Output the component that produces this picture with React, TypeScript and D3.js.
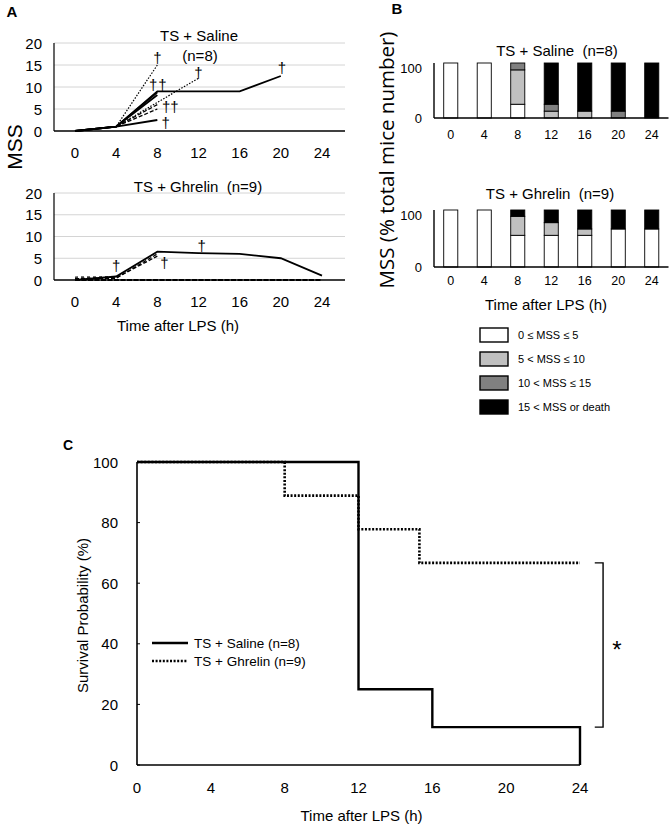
import React from 'react';
import * as d3 from 'd3';

const FONT = "'Liberation Sans', Arial, Helvetica, sans-serif";

// ---------- shared ----------
const timeLabels = ['0', '4', '8', '12', '16', '20', '24'];
const mssTicks = [0, 5, 10, 15, 20];

// ---------- Panel A : TS + Saline (n=8), [hour, MSS] ----------
const salineMouse1 = [[0, 0], [4, 1], [8, 9], [12, 9], [16, 9], [20, 12.5]];
const salineMouse2 = [[0, 0], [4, 1], [8, 15]];
const salineMouse3 = [[0, 0], [4, 1], [8, 6.5], [12, 12]];
const salineMouse4 = [[0, 0], [4, 1], [8, 8.8]];
const salineMouse5 = [[0, 0], [4, 1], [8, 8.2]];
const salineMouse6 = [[0, 0], [4, 1], [8, 6]];
const salineMouse7 = [[0, 0], [4, 1], [8, 5]];
const salineMouse8 = [[0, 0], [4, 1], [8, 2.5]];
const salineDeaths = [[8, 16.8], [7.6, 10.5], [8.5, 10.5], [8.85, 5.5], [9.65, 5.5], [8.8, 2], [12, 13.4], [20.1, 14.5]];

// ---------- Panel A : TS + Ghrelin (n=9) ----------
const ghrelinMouse1 = [[0, 0], [4, 0.8], [8, 6.5], [12, 6.2], [16, 6], [20, 5], [24, 1]];
const ghrelinMouse2 = [[0, 0.3], [4, 0.5], [8, 5.5]];
const ghrelinMouse3 = [[0, 0.3], [4, 0.4], [8, 6]];
const ghrelinMouse4 = [[0, 0.6], [4, 0.7]];
const ghrelinZero = [[0, 0], [4, 0], [8, 0], [12, 0], [16, 0], [20, 0], [24, 0]];
const ghrelinDeaths = [[4, 3.4], [8.7, 4.1], [12.3, 8]];

// ---------- Panel B : % of mice per MSS class ----------
const mssClasses = ['0 \u2264 MSS \u2264 5', '5 < MSS \u2264 10', '10 < MSS \u2264 15', '15 < MSS or death'];
const salineWhite = [100, 100, 25, 0, 0, 0, 0];
const salineLight = [0, 0, 62.5, 12.5, 12.5, 0, 0];
const salineDark = [0, 0, 12.5, 12.5, 0, 12.5, 0];
const salineBlack = [0, 0, 0, 75, 87.5, 87.5, 100];
const ghrelinWhite = [100, 100, 55.6, 55.6, 55.6, 66.7, 66.7];
const ghrelinLight = [0, 0, 33.3, 22.2, 11.1, 0, 0];
const ghrelinDark = [0, 0, 0, 0, 0, 0, 0];
const ghrelinBlack = [0, 0, 11.1, 22.2, 33.3, 33.3, 33.3];
const pctTicks = [0, 100];

// ---------- Panel C : survival ----------
const salineSurvival = [[0, 100], [12, 25], [16, 12.5], [24, 0]];
const ghrelinSurvival = [[0, 100], [8, 88.9], [12, 77.8], [15.3, 66.7], [24, 66.7]];
const survivalTicks = [0, 20, 40, 60, 80, 100];
const survivalHourTicks = [0, 4, 8, 12, 16, 20, 24];
const bracketRange = [66.7, 12.5];

const STYLE: Record<string, { w: number; dash?: string; c: string }> = {
  solid: { w: 1.8, c: '#000' },
  dotted: { w: 1.2, dash: '1.5,1.5', c: '#000' },
  dashed: { w: 1.3, dash: '4,2', c: '#000' },
  zero: { w: 2.2, dash: '5,1.5', c: '#000' },
  faint: { w: 2, dash: '3,3', c: '#444' },
};

const salineSeries: [number[][], string][] = [
  [salineMouse1, 'solid'], [salineMouse2, 'dotted'], [salineMouse3, 'dotted'], [salineMouse4, 'solid'],
  [salineMouse5, 'solid'], [salineMouse6, 'dashed'], [salineMouse7, 'dashed'], [salineMouse8, 'solid'],
];
const ghrelinSeries: [number[][], string][] = [
  [ghrelinZero, 'zero'], [ghrelinMouse4, 'faint'], [ghrelinMouse3, 'dashed'], [ghrelinMouse2, 'dashed'], [ghrelinMouse1, 'solid'],
];

const classColors = ['#ffffff', '#c0c0c0', '#808080', '#000000'];
const classKeys = ['c0', 'c1', 'c2', 'c3'];

function MssPanel({ y0, y1, series, deaths, title }: any) {
  const x = d3.scaleLinear().domain([0, 24]).range([75, 322]);
  const y = d3.scaleLinear().domain([0, 20]).range([y0, y1]);
  const line = d3.line<number[]>().x(d => x(d[0])).y(d => y(d[1]));
  return (
    <g>
      {mssTicks.filter(t => t > 0).map(t => (
        <line key={t} x1={54} x2={345} y1={y(t)} y2={y(t)} stroke="#d4d4d4" strokeWidth={1} />
      ))}
      {mssTicks.map(t => (
        <text key={t} x={42} y={y(t)} textAnchor="end" dominantBaseline="central" fontSize={15}>{t}</text>
      ))}
      {series.map(([pts, st]: any, i: number) => (
        <path key={i} d={line(pts) || ''} fill="none" stroke={STYLE[st].c} strokeWidth={STYLE[st].w}
          strokeDasharray={STYLE[st].dash} />
      ))}
      <line x1={54} x2={54} y1={y(0)} y2={y(20)} stroke="#000" strokeWidth={1.2} />
      <line x1={54} x2={345} y1={y(0)} y2={y(0)} stroke="#000" strokeWidth={1.6} />
      {deaths.map((d: number[], i: number) => (
        <text key={i} x={x(d[0])} y={y(d[1])} textAnchor="middle" dominantBaseline="central" fontSize={15} fill="#000">{'\u2020'}</text>
      ))}
      {timeLabels.map((l) => (
        <text key={l} x={x(+l)} y={y(0) + 21} textAnchor="middle" dominantBaseline="central" fontSize={15}>{l}</text>
      ))}
      {title}
    </g>
  );
}

function BarPanel({ y0, y1, data, labelGap }: any) {
  const x = d3.scaleBand<string>().domain(timeLabels).range([434, 668.5]).paddingInner(0.58).paddingOuter(0.29);
  const y = d3.scaleLinear().domain([0, 100]).range([y0, y1]);
  const rows = timeLabels.map((l, i) => {
    const r: any = { label: l };
    classKeys.forEach((k, j) => { r[k] = data[j][i]; });
    return r;
  });
  const stacked = d3.stack<any>().keys(classKeys)(rows);
  return (
    <g>
      {stacked.map((layer, j) => layer.map((seg, i) => {
        const h = y(seg[0]) - y(seg[1]);
        if (h <= 0.01) return null;
        return (
          <rect key={j + '-' + i} x={x(rows[i].label)} width={x.bandwidth()} y={y(seg[1])} height={h}
            fill={classColors[j]} stroke="#000" strokeWidth={0.9} />
        );
      }))}
      <line x1={434} x2={434} y1={y(0)} y2={y(100)} stroke="#000" strokeWidth={1.4} />
      <line x1={434} x2={668.5} y1={y(0)} y2={y(0)} stroke="#000" strokeWidth={1.6} />
      {pctTicks.map(t => (
        <text key={t} x={422} y={y(t)} textAnchor="end" dominantBaseline={t === 100 ? 'hanging' : 'central'} fontSize={13}>{t}</text>
      ))}
      {timeLabels.map(l => (
        <text key={l} x={(x(l) || 0) + x.bandwidth() / 2} y={y(0) + labelGap} textAnchor="middle" dominantBaseline="central" fontSize={12.5}>{l}</text>
      ))}
    </g>
  );
}

function SurvivalPanel() {
  const x = d3.scaleLinear().domain([0, 24]).range([137, 580]);
  const y = d3.scaleLinear().domain([0, 100]).range([765, 462]);
  const step = d3.line<number[]>().x(d => x(d[0])).y(d => y(d[1])).curve(d3.curveStepAfter);
  const bx = x(25.25);
  return (
    <g>
      <path d={step(ghrelinSurvival) || ''} fill="none" stroke="#000" strokeWidth={2.6} strokeDasharray="2,1.6" />
      <path d={step(salineSurvival) || ''} fill="none" stroke="#000" strokeWidth={2.4} />
      <line x1={x(0)} x2={x(0)} y1={y(0)} y2={y(100)} stroke="#000" strokeWidth={1.6} />
      <line x1={x(0)} x2={x(24)} y1={y(0)} y2={y(0)} stroke="#000" strokeWidth={1.6} />
      {survivalTicks.map(t => (
        <g key={t}>
          <line x1={x(0)} x2={x(0) + 3} y1={y(t)} y2={y(t)} stroke="#000" strokeWidth={1} />
          <text x={118} y={y(t)} textAnchor="end" dominantBaseline="central" fontSize={15}>{t}</text>
        </g>
      ))}
      {survivalHourTicks.map(t => (
        <text key={t} x={x(t)} y={y(0) + 22} textAnchor="middle" dominantBaseline="central" fontSize={15}>{t}</text>
      ))}
      {/* significance bracket */}
      <path d={`M${x(24.8)},${y(bracketRange[0])}H${bx}V${y(bracketRange[1])}H${x(24.8)}`} fill="none" stroke="#000" strokeWidth={1.4} />
      <text x={x(26)} y={y(38)} textAnchor="middle" dominantBaseline="central" fontSize={24}>*</text>
      {/* legend */}
      <line x1={152} x2={188} y1={643} y2={643} stroke="#000" strokeWidth={2.4} />
      <line x1={152} x2={188} y1={661} y2={661} stroke="#000" strokeWidth={2.4} strokeDasharray="2,1.6" />
      <text x={194} y={643} dominantBaseline="central" fontSize={13.5}>TS + Saline (n=8)</text>
      <text x={194} y={661} dominantBaseline="central" fontSize={13.5}>TS + Ghrelin (n=9)</text>
      <text transform={`translate(82,${(y(0) + y(100)) / 2 + 2}) rotate(-90)`} textAnchor="middle" dominantBaseline="central" fontSize={15}>Survival Probability (%)</text>
      <text x={(x(0) + x(24)) / 2 + 3} y={815} textAnchor="middle" dominantBaseline="central" fontSize={15}>Time after LPS (h)</text>
      <text x={68} y={445} textAnchor="middle" dominantBaseline="central" fontSize={14} fontWeight="bold">C</text>
    </g>
  );
}

export default function App() {
  return (
    <svg width={669} height={824} viewBox="0 0 669 824"
      style={{ position: 'absolute', left: 0, top: 0, background: '#fff', fontFamily: FONT }}>
      <rect x={0} y={0} width={669} height={824} fill="#fff" />
      {/* Panel A */}
      <text x={12} y={11} textAnchor="middle" dominantBaseline="central" fontSize={15} fontWeight="bold">A</text>
      <MssPanel y0={131} y1={43} series={salineSeries} deaths={salineDeaths}
        title={<g>
          <text x={199} y={35} textAnchor="middle" dominantBaseline="central" fontSize={15}>TS + Saline</text>
          <text x={200} y={55} textAnchor="middle" dominantBaseline="central" fontSize={15}>(n=8)</text>
        </g>} />
      <MssPanel y0={280} y1={193} series={ghrelinSeries} deaths={ghrelinDeaths}
        title={<text x={198} y={186} textAnchor="middle" dominantBaseline="central" fontSize={15}>{'TS + Ghrelin\u00a0\u00a0(n=9)'}</text>} />
      <text transform="translate(14,147) rotate(-90)" textAnchor="middle" dominantBaseline="central" fontSize={21}>MSS</text>
      <text x={178} y={325} textAnchor="middle" dominantBaseline="central" fontSize={15}>Time after LPS (h)</text>

      {/* Panel B */}
      <text x={397} y={8} textAnchor="middle" dominantBaseline="central" fontSize={15} fontWeight="bold">B</text>
      <text x={557} y={50} textAnchor="middle" dominantBaseline="central" fontSize={15}>{'TS + Saline\u00a0\u00a0(n=8)'}</text>
      <BarPanel y0={118} y1={63} data={[salineWhite, salineLight, salineDark, salineBlack]} labelGap={17} />
      <text x={550} y={193} textAnchor="middle" dominantBaseline="central" fontSize={15}>{'TS + Ghrelin\u00a0\u00a0(n=9)'}</text>
      <BarPanel y0={267} y1={210} data={[ghrelinWhite, ghrelinLight, ghrelinDark, ghrelinBlack]} labelGap={14} />
      <text transform="translate(386,160) rotate(-90)" textAnchor="middle" dominantBaseline="central" fontSize={20.5}
        fontFamily="'Open Sans', sans-serif">MSS (% total mice number)</text>
      <text x={546} y={304} textAnchor="middle" dominantBaseline="central" fontSize={15}>Time after LPS (h)</text>
      {mssClasses.map((c, i) => (
        <g key={c}>
          <rect x={480} y={328 + i * 24} width={28} height={14} fill={classColors[i]} stroke="#000" strokeWidth={1.4} />
          <text x={518} y={335 + i * 24} dominantBaseline="central" fontSize={11}>{c}</text>
        </g>
      ))}

      <SurvivalPanel />
    </svg>
  );
}
